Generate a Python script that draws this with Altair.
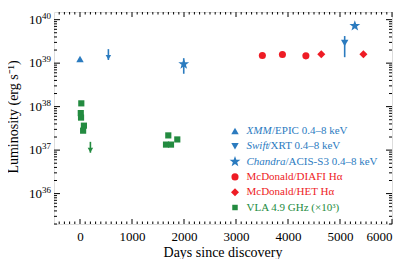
import altair as alt
import pandas as pd

BLUE = "#2b7bbf"
RED = "#ee1c25"
GREEN = "#238b40"
FONT = "Liberation Serif, Times New Roman, Times, serif"

# ---- data ----
xmm_day = [0]
xmm_lum = [1.25e39]

swift_day = [5090]
swift_lum = [2.9e39]
swift_hi = [4.2e39]
swift_lo = [1.37e39]

swift_lim_day = [546]
swift_lim_lum = [2.1e39]

chandra_day = [1995, 5285]
chandra_lum = [9.5e38, 7.2e39]
chandra_err_day = [1995]
chandra_hi = [1.3e39]
chandra_lo = [5.7e38]

diafi_day = [3507, 3893, 4344]
diafi_lum = [1.5e39, 1.58e39, 1.47e39]

het_day = [4640, 5450]
het_lum = [1.6e39, 1.6e39]

vla_day = [25, 15, 20, 75, 60, 1698, 1654, 1750, 1871]
vla_lum = [1.19e38, 7.1e37, 5.6e37, 3.65e37, 2.8e37, 2.18e37, 1.34e37, 1.34e37, 1.76e37]

vla_lim_day = [200]
vla_lim_lum = [1.55e37]

x_major = [0, 1000, 2000, 3000, 4000, 5000, 6000]
x_minor = [d for d in range(-400, 6000, 100) if d % 1000 != 0]
y_exponents = [36, 37, 38, 39, 40]
y_minor = [m * 10.0 ** n for n in range(35, 40) for m in range(2, 10) if 2e35 <= m * 10.0 ** n <= 1.5e40]

legend_prefix = ["XMM", "Swift", "Chandra", "", "", ""]
legend_rest = ["/EPIC 0.4\u20138 keV", "/XRT 0.4\u20138 keV", "/ACIS-S3 0.4\u20138 keV",
               "McDonald/DIAFI H\u03b1", "McDonald/HET H\u03b1", "VLA 4.9 GHz (\u00d710\u00b3)"]
legend_prefix_w = [25.5, 21, 39, 0, 0, 0]

STAR = ("M0,-1L0.235,-0.324L0.951,-0.309L0.380,0.124L0.588,0.809L0,0.4"
        "L-0.588,0.809L-0.380,0.124L-0.951,-0.309L-0.235,-0.324Z")
legend_shape = ["triangle-up", "triangle-down", STAR, "circle", "diamond", "square"]
legend_size = [55, 55, 130, 50, 65, 30]
legend_color = [BLUE, BLUE, BLUE, RED, RED, GREEN]

W, H = 338, 212

xs = alt.Scale(domain=[-500, 6000], nice=False, zero=False)
ys = alt.Scale(type="log", domain=[2e35, 1.5e40], nice=False)


def X(f):
    return alt.X(f, type="quantitative", scale=xs,
                 axis=alt.Axis(values=x_major, format="d", title=None, ticks=False,
                               domain=False, grid=False, labelFont=FONT, labelFontSize=13,
                               labelColor="black", labelPadding=6))


def Y(f):
    return alt.Y(f, type="quantitative", scale=ys, axis=None)


def pts(day, lum, shape, color, size):
    df = pd.DataFrame({"d": day, "l": lum})
    return alt.Chart(df).mark_point(shape=shape, filled=True, color=color, size=size,
                                    opacity=1, strokeWidth=0).encode(x=X("d"), y=Y("l"))


def errbar(day, lo, hi, color):
    df = pd.DataFrame({"d": day, "lo": lo, "hi": hi})
    return alt.Chart(df).mark_rule(color=color, strokeWidth=1.6).encode(
        x=X("d"), y=Y("lo"), y2="hi")


def uplim(day, lum, color):
    df = pd.DataFrame({"d": day, "l": lum})
    base = alt.Chart(df).transform_calculate(
        tip="datum.l * pow(10, -0.25)", head="datum.l * pow(10, -0.19)")
    line = base.mark_rule(color=color, strokeWidth=1.6).encode(x=X("d"), y=Y("l"), y2="tip:Q")
    head = base.mark_point(shape="triangle-down", filled=True, color=color, size=30,
                           opacity=1, strokeWidth=0).encode(x=X("d"), y=Y("head:Q"))
    return line + head


layers = []

# ticks (inward, on all four sides)
ymaj = pd.DataFrame({"v": [10.0 ** e for e in y_exponents]})
ymin = pd.DataFrame({"v": y_minor})
xmaj = pd.DataFrame({"v": x_major})
xmin = pd.DataFrame({"v": x_minor})
for df, ln in [(ymaj, 6), (ymin, 3)]:
    layers.append(alt.Chart(df).mark_rule(color="black", strokeWidth=1).encode(
        y=Y("v"), x=alt.value(0), x2=alt.value(ln)))
    layers.append(alt.Chart(df).mark_rule(color="black", strokeWidth=1).encode(
        y=Y("v"), x=alt.value(W), x2=alt.value(W - ln)))
for df, ln in [(xmaj, 5), (xmin, 2.5)]:
    layers.append(alt.Chart(df).mark_rule(color="black", strokeWidth=1).encode(
        x=X("v"), y=alt.value(H), y2=alt.value(H - ln)))
    layers.append(alt.Chart(df).mark_rule(color="black", strokeWidth=1).encode(
        x=X("v"), y=alt.value(0), y2=alt.value(ln)))

# y tick labels with superscript exponents
ylab = pd.DataFrame({"v": [10.0 ** e for e in y_exponents], "e": [str(e) for e in y_exponents]})
layers.append(alt.Chart(ylab).mark_text(align="right", baseline="middle", font=FONT,
                                        fontSize=13, color="black").encode(
    y=Y("v"), x=alt.value(-12), text=alt.value("10")))
layers.append(alt.Chart(ylab).mark_text(align="left", baseline="middle", font=FONT,
                                        fontSize=9, color="black", dy=-4).encode(
    y=Y("v"), x=alt.value(-12), text="e:N"))

# axis titles
layers.append(alt.Chart(pd.DataFrame({"t": ["Luminosity (erg s\u207b\u00b9)"]})).mark_text(
    angle=270, align="center", baseline="middle", font=FONT, fontSize=14, color="black").encode(
    x=alt.value(-40), y=alt.value(H / 2 - 1), text="t:N"))
layers.append(alt.Chart(pd.DataFrame({"t": ["Days since discovery"]})).mark_text(
    align="center", baseline="middle", font=FONT, fontSize=14, color="black").encode(
    x=alt.value(W / 2), y=alt.value(H + 29), text="t:N"))

# data
layers.append(errbar(chandra_err_day, chandra_lo, chandra_hi, BLUE))
layers.append(errbar(swift_day, swift_lo, swift_hi, BLUE))
layers.append(uplim(swift_lim_day, swift_lim_lum, BLUE))
layers.append(uplim(vla_lim_day, vla_lim_lum, GREEN))
layers.append(pts(xmm_day, xmm_lum, "triangle-up", BLUE, 55))
layers.append(pts(swift_day, swift_lum, "triangle-down", BLUE, 55))
layers.append(pts(chandra_day, chandra_lum, STAR, BLUE, 130))
layers.append(pts(diafi_day, diafi_lum, "circle", RED, 50))
layers.append(pts(het_day, het_lum, "diamond", RED, 65))
layers.append(pts(vla_day, vla_lum, "square", GREEN, 38))

# legend (drawn by hand so that the instrument names can be italic)
for i in range(6):
    yy = 119 + 15.3 * i
    d1 = pd.DataFrame({"a": [0]})
    layers.append(alt.Chart(d1).mark_point(shape=legend_shape[i], filled=True,
                                           color=legend_color[i], size=legend_size[i],
                                           opacity=1, strokeWidth=0).encode(
        x=alt.value(181), y=alt.value(yy)))
    if legend_prefix[i]:
        layers.append(alt.Chart(pd.DataFrame({"t": [legend_prefix[i]]})).mark_text(
            align="left", baseline="middle", font=FONT, fontSize=11, fontStyle="italic",
            color=legend_color[i]).encode(x=alt.value(192.5), y=alt.value(yy), text="t:N"))
    layers.append(alt.Chart(pd.DataFrame({"t": [legend_rest[i]]})).mark_text(
        align="left", baseline="middle", font=FONT, fontSize=11,
        color=legend_color[i]).encode(x=alt.value(192.5 + legend_prefix_w[i]),
                                      y=alt.value(yy), text="t:N"))

chart = alt.layer(*layers).properties(
    width=W, height=H,
    autosize=alt.AutoSizeParams(type="none"),
    padding={"left": 46, "top": 4, "right": 15, "bottom": 35},
).configure_view(stroke="black", strokeWidth=1.5).configure(background="white")

chart.save("out.html", embed_options={"renderer": "svg", "actions": False})
